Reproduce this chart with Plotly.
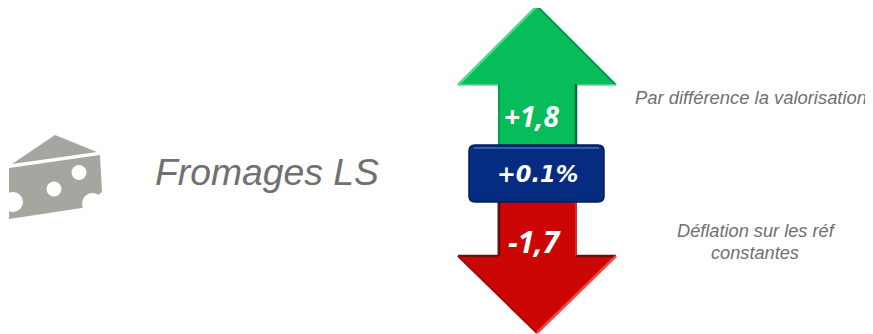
import plotly.graph_objects as go

up_label = "+1,8"
down_label = "-1,7"
mid_label = "+0.1%"
title_label = "Fromages LS"
note_up = "Par différence la valorisation"
note_down = ["Déflation sur les réf", "constantes"]

GREEN, GREEN_L, GREEN_D = "#07BC5A", "#4FD98C", "#046B34"
RED, RED_L, RED_D = "#CC0605", "#F04A48", "#6E0B0B"
BLUE, BLUE_L, BLUE_D = "#052C80", "#3A5CA8", "#021C58"
CHEESE = "#A6A6A0"
TEXT_GREY = "#707070"

up_x = [537, 616, 576, 576, 498, 498, 458, 537]
up_y = [6, 85, 85, 147, 147, 85, 85, 6]
down_x = [498, 576, 576, 616, 537, 458, 498, 498]
down_y = [200, 200, 256, 256, 333, 256, 256, 200]
wedge_x = [55, 97, 12, 55]
wedge_y = [135, 152, 164, 135]
body_x = [9, 100, 102, 82, 9, 9]
body_y = [168, 155, 192, 208, 219, 168]

fig = go.Figure()


def poly(x, y, color):
    fig.add_trace(go.Scatter(x=x, y=y, mode="lines", fill="toself", fillcolor=color,
                             line=dict(color=color, width=0), hoverinfo="skip", showlegend=False))


def edge(x, y, color, width=2):
    fig.add_trace(go.Scatter(x=x, y=y, mode="lines", line=dict(color=color, width=width),
                             hoverinfo="skip", showlegend=False))


poly(up_x, up_y, GREEN)
edge([458, 537], [85, 6], GREEN_L, 2.5)
edge([537, 616], [6, 85], "#059A49", 2)
edge([458, 498], [85, 85], "#5FDC95", 1.5)
edge([576, 616], [85, 85], "#5FDC95", 1.5)
edge([499, 499], [84, 147], "#06A04D", 2)
edge([576, 576], [84, 147], GREEN_D, 2.5)

poly(down_x, down_y, RED)
edge([499, 499], [200, 256], RED_D, 3)
edge([576, 576], [200, 256], "#E02A28", 2)
edge([458, 498], [256, 256], RED_D, 2.5)
edge([576, 616], [256, 256], RED_D, 2.5)
edge([458, 537], [256, 333], "#A80808", 2)
edge([537, 616], [333, 256], RED_L, 2.5)

poly(wedge_x, wedge_y, CHEESE)
poly(body_x, body_y, CHEESE)

shapes = [
    dict(type="path", path="M475,145 H598 Q604,145 604,151 V196 Q604,202 598,202 H475 Q469,202 469,196 V151 Q469,145 475,145 Z",
         fillcolor=BLUE, line=dict(color=BLUE_D, width=1.5)),
    dict(type="line", x0=474, x1=599, y0=148, y1=148, line=dict(color=BLUE_L, width=2)),
    dict(type="line", x0=474, x1=599, y0=200, y1=200, line=dict(color="#032A78", width=2)),
    dict(type="circle", x0=71.5, x1=86.5, y0=165, y1=180, fillcolor="white", line_width=0),
    dict(type="circle", x0=46.5, x1=61.5, y0=181.5, y1=196.5, fillcolor="white", line_width=0),
    dict(type="circle", x0=3, x1=23, y0=192, y1=212, fillcolor="white", line_width=0),
    dict(type="circle", x0=82, x1=103, y0=193, y1=214, fillcolor="white", line_width=0),
]


def label(x, y, text, size, color, family, bold=False, box=None):
    t = f"<b><i>{text}</i></b>" if bold else f"<i>{text}</i>"
    fig.add_annotation(x=x, y=y, text=t, showarrow=False, xanchor="center", yanchor="middle",
                       width=box, font=dict(size=size, color=color, family=family))


label(266.5, 172, title_label, 37.3, TEXT_GREY, "Liberation Sans")
label(531, 115.5, up_label, 28, "white", "Open Sans", True)
label(534.5, 241.5, down_label, 30, "white", "Open Sans", True)
label(537.5, 174, mid_label, 22.5, "white", "DejaVu Sans", True)
label(750.5, 97, note_up, 18.4, TEXT_GREY, "Liberation Sans", box=240)
label(756, 231, note_down[0], 18.2, TEXT_GREY, "Liberation Sans")
label(755, 253, note_down[1], 18.2, TEXT_GREY, "Liberation Sans")

# The page body has an 8 px margin: the figure starts at (8, 8), so axes cover only what remains.
fig.update_layout(
    width=865, height=326, margin=dict(l=0, r=0, t=0, b=0), autosize=False,
    paper_bgcolor="white", plot_bgcolor="white", showlegend=False, shapes=shapes,
    xaxis=dict(range=[8, 873], visible=False, fixedrange=True),
    yaxis=dict(range=[334, 8], visible=False, fixedrange=True),
)
fig.write_html("out.html", config={"displayModeBar": False})
